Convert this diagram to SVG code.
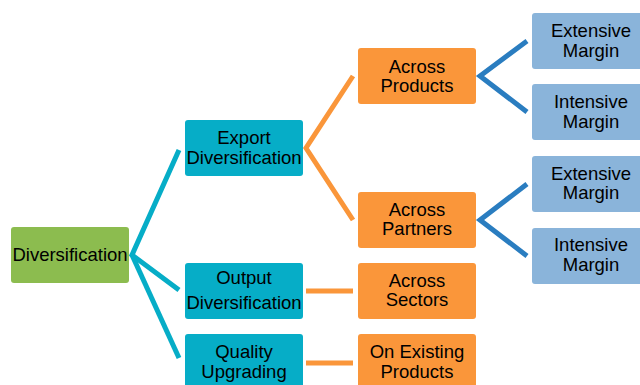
<svg xmlns="http://www.w3.org/2000/svg" width="640" height="385" viewBox="0 0 640 385">
<style>
.t{font-family:"Liberation Sans",Arial,sans-serif;font-size:18.5px;fill:#000;text-anchor:middle}
.g{fill:#8CBC4F}
.c{fill:#06ADC7}
.o{fill:#FA963A}
.b{fill:#8AB4DA}
.lc{stroke:#06ADC7;stroke-width:5;fill:none}
.lo{stroke:#FA963A;stroke-width:5;fill:none}
.lb{stroke:#2A7DC0;stroke-width:5;fill:none}
</style>
<rect width="640" height="385" fill="#fff"/>
<g id="connectors">
<polyline class="lc" points="179,150 132,255 179,290"/>
<line class="lc" x1="132" y1="255" x2="179" y2="358"/>
<polyline class="lo" points="353,76 306,148 353,220"/>
<line class="lo" x1="306" y1="291" x2="353" y2="291"/>
<line class="lo" x1="306" y1="363" x2="353" y2="363"/>
<polyline class="lb" points="527,41 480,76 527,112"/>
<polyline class="lb" points="527,184 480,220 527,256"/>
</g>
<g id="n-diversification"><rect class="g" x="11" y="227" width="118" height="56" rx="3"/><text class="t" x="70" y="261">Diversification</text></g>
<g id="n-export"><rect class="c" x="185" y="120" width="118" height="56" rx="3"/><text class="t" x="244" y="144">Export</text><text class="t" x="244" y="164">Diversification</text></g>
<g id="n-output"><rect class="c" x="185" y="263" width="118" height="56" rx="3"/><text class="t" x="244" y="284">Output</text><text class="t" x="244" y="309">Diversification</text></g>
<g id="n-quality"><rect class="c" x="185" y="334" width="118" height="56" rx="3"/><text class="t" x="244" y="358">Quality</text><text class="t" x="244" y="378">Upgrading</text></g>
<g id="n-products"><rect class="o" x="358" y="48" width="118" height="56" rx="3"/><text class="t" x="417" y="73">Across</text><text class="t" x="417" y="92">Products</text></g>
<g id="n-partners"><rect class="o" x="358" y="192" width="118" height="56" rx="3"/><text class="t" x="417" y="216">Across</text><text class="t" x="417" y="235">Partners</text></g>
<g id="n-sectors"><rect class="o" x="358" y="263" width="118" height="56" rx="3"/><text class="t" x="417" y="287">Across</text><text class="t" x="417" y="306">Sectors</text></g>
<g id="n-existing"><rect class="o" x="358" y="334" width="118" height="56" rx="3"/><text class="t" x="417" y="358">On Existing</text><text class="t" x="417" y="378">Products</text></g>
<g id="n-ext1"><rect class="b" x="532" y="13" width="118" height="56" rx="3"/><text class="t" x="591" y="37">Extensive</text><text class="t" x="591" y="57">Margin</text></g>
<g id="n-int1"><rect class="b" x="532" y="84" width="118" height="56" rx="3"/><text class="t" x="591" y="108">Intensive</text><text class="t" x="591" y="128">Margin</text></g>
<g id="n-ext2"><rect class="b" x="532" y="156" width="118" height="56" rx="3"/><text class="t" x="591" y="180">Extensive</text><text class="t" x="591" y="199">Margin</text></g>
<g id="n-int2"><rect class="b" x="532" y="228" width="118" height="56" rx="3"/><text class="t" x="591" y="251">Intensive</text><text class="t" x="591" y="271">Margin</text></g>
</svg>
